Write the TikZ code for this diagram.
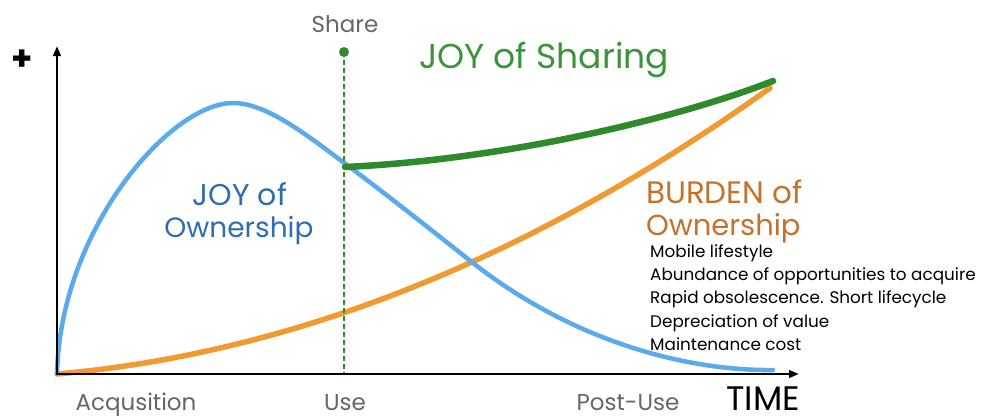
\documentclass[tikz,border=0pt]{standalone}
\usepackage{fontspec}
\setmainfont{Poppins}
\usetikzlibrary{arrows.meta}
\definecolor{cblue}{HTML}{5AAAEC}
\definecolor{ctblue}{HTML}{2F6DB0}
\definecolor{corange}{HTML}{F29A32}
\definecolor{ctorange}{HTML}{C4722C}
\definecolor{cgreen}{HTML}{2F8A2C}
\definecolor{ctgreen}{HTML}{3A943A}
\definecolor{cgray}{HTML}{666666}
\tikzset{
  axis/.style={line width=2.8pt,-{Triangle[length=10pt,width=7.5pt]}},
  lbl/.style={inner sep=0pt,anchor=base},
  listtxt/.style={inner sep=0pt,anchor=base west,font=\fontsize{16.8}{18}\selectfont},
}
\begin{document}
\begin{tikzpicture}[x=1pt,y=-1pt]
\useasboundingbox[fill=white] (0,0) rectangle (987,418);
\coordinate (O) at (57,374);
\coordinate (ytop) at (57,46);
\coordinate (xend) at (799,374);
% curves
\draw[corange,line width=5.5pt,line cap=round] (57,374)
  .. controls (294.7,353.2) and (532.3,257.9) .. (770,88);
\draw[cblue,line width=4.5pt,line cap=round] (57,374)
  .. controls (60,230) and (170,103) .. (233,103)
  .. controls (265,103) and (303,132) .. (343,162)
  .. controls (386,194) and (430,229) .. (473,263)
  .. controls (583,349) and (700,371) .. (773,370);
\draw[cgreen,line width=6.5pt,line cap=round] (345,167)
  .. controls (500,160) and (673,120) .. (773,81);
% share line
\coordinate (sharebot) at (344,374);
\node[circle,fill=cgreen,inner sep=0pt,minimum size=10pt] (sdot) at (344,52) {};
\draw[cgreen,line width=2.6pt,dash pattern=on 4.5pt off 3.5pt] (sdot.center) -- (sharebot);
% axes
\draw[axis] (O) -- (ytop);
\draw[axis] ([xshift=-1.4pt]O) -- (xend);
% texts
\node[inner sep=0pt,font=\fontsize{34}{34}\selectfont\bfseries] (plus) at (22,60) {+};
\node[lbl,text=cgray,font=\fontsize{23}{23}\selectfont] (share) at (345,32) {Share};
\node[lbl,text=ctgreen,font=\fontsize{34.5}{34}\selectfont] (joys) at (544,68) {JOY of Sharing};
\node[lbl,text=ctblue,font=\fontsize{30}{30}\selectfont] (joyo1) at (240,205) {JOY of};
\node[lbl,text=ctblue,font=\fontsize{28}{28}\selectfont] (joyo2) at (239,237) {Ownership};
\node[lbl,anchor=base west,text=ctorange,font=\fontsize{31}{31}\selectfont] (bur1) at (646,203) {BURDEN of};
\node[lbl,anchor=base west,text=ctorange,font=\fontsize{29}{29}\selectfont] (bur2) at (646,235) {Ownership};
\node[listtxt] (l1) at (650,257) {Mobile lifestyle};
\node[listtxt] (l2) at (650,280) {Abundance of opportunities to acquire};
\node[listtxt] (l3) at (650,303) {Rapid obsolescence. Short lifecycle};
\node[listtxt] (l4) at (650,327) {Depreciation of value};
\node[listtxt] (l5) at (650,350) {Maintenance cost};
\node[lbl,text=cgray,font=\fontsize{23}{23}\selectfont] (acq) at (136,410) {Acqusition};
\node[lbl,text=cgray,font=\fontsize{23}{23}\selectfont] (use) at (345,410) {Use};
\node[lbl,text=cgray,font=\fontsize{23}{23}\selectfont] (post) at (628,410) {Post-Use};
\node[lbl,font=\fontsize{34}{34}\selectfont] (time) at (763,410) {TIME};
\end{tikzpicture}
\end{document}
